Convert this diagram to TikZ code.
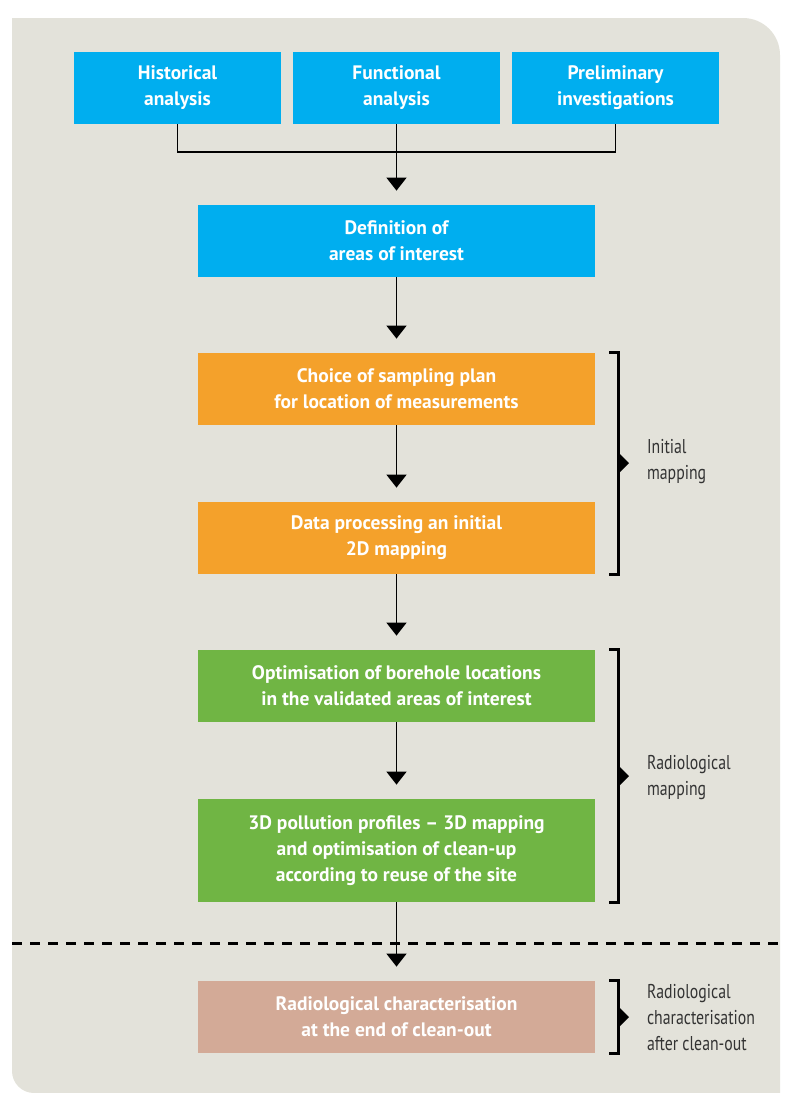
\documentclass[tikz,border=0pt]{standalone}
\usepackage{fontspec}
\setmainfont{PT Sans}
\newfontfamily\notefont[FakeStretch=0.79]{PT Sans}
\usetikzlibrary{arrows.meta}
\definecolor{panelgrey}{HTML}{E3E2DA}
\definecolor{stepblue}{HTML}{00AEEF}
\definecolor{steporange}{HTML}{F4A12B}
\definecolor{stepgreen}{HTML}{70B544}
\definecolor{stepbrown}{HTML}{D3AA97}
\definecolor{notegrey}{HTML}{333333}
\tikzset{
  stepbox/.style={minimum width=198.5pt, minimum height=36pt, inner sep=0pt,
    align=center, text=white, font=\fontsize{9.75}{13}\selectfont\bfseries},
  smallbox/.style={stepbox, minimum width=103.5pt},
  flow/.style={line width=0.75pt, -{Triangle[width=10pt,length=6.5pt]}, shorten >=7pt},
  bracket/.style={line width=1.25pt},
  note/.style={anchor=west, align=left, text=notegrey, font=\fontsize{10}{13}\notefont}
}
\begin{document}
\begin{tikzpicture}[x=0.5pt,y=-0.5pt]
  \useasboundingbox (0,0) rectangle (784,1093);
  \fill[panelgrey] (12,18) -- (743,18) to[out=0,in=90] (780,55)
    -- (780,1093) -- (34,1093) to[out=180,in=-90] (12,1071) -- cycle;
  \draw[line width=1.5pt, dash pattern=on 5pt off 4pt] (12,943) -- (784,943);

  \node[smallbox, fill=stepblue] (hist) at (177.5,88) {Historical\\analysis};
  \node[smallbox, fill=stepblue] (funct) at (396.5,88) {Functional\\analysis};
  \node[smallbox, fill=stepblue] (prelim) at (615.5,88) {Preliminary\\investigations};
  \node[stepbox, fill=stepblue] (areas) at (396.5,241) {Definition of\\areas of interest};
  \node[stepbox, fill=steporange] (plan) at (396.5,389) {Choice of sampling plan\\for location of measurements};
  \node[stepbox, fill=steporange] (proc) at (396.5,538) {Data processing an initial\\2D mapping};
  \node[stepbox, fill=stepgreen] (bore) at (396.5,686) {Optimisation of borehole locations\\in the validated areas of interest};
  \node[stepbox, fill=stepgreen, minimum height=51.5pt] (prof) at (396.5,850.5) {3D pollution profiles -- 3D mapping\\and optimisation of clean-up\\according to reuse of the site};
  \node[stepbox, fill=stepbrown] (final) at (396.5,1017) {Radiological characterisation\\at the end of clean-out};

  \coordinate (join) at (396.5,152);
  \begin{scope}[line width=0.75pt]
    \draw (hist.south) |- (join);
    \draw (prelim.south) |- (join);
  \end{scope}
  \draw[flow] (funct.south) -- (areas.north);
  \draw[flow] (areas.south) -- (plan.north);
  \draw[flow] (plan.south) -- (proc.north);
  \draw[flow] (proc.south) -- (bore.north);
  \draw[flow] (bore.south) -- (prof.north);
  \draw[flow] (prof.south) -- (final.north);

  \begin{scope}[bracket]
    \draw ([xshift=7pt]plan.north east) -- ++(4.5pt,0) |- ([xshift=7pt]proc.south east);
    \draw ([xshift=7pt]bore.north east) -- ++(4.5pt,0) |- ([xshift=7pt]prof.south east);
    \draw ([xshift=7pt]final.north east) -- ++(4.5pt,0) |- ([xshift=7pt]final.south east);
  \end{scope}
  \fill (618,452) -- (629,463) -- (618,474) -- cycle;
  \fill (618,765) -- (629,776) -- (618,787) -- cycle;
  \fill (618,1006) -- (629,1017) -- (618,1028) -- cycle;

  \node[note] (initnote) at (640,462) {Initial\\mapping};
  \node[note] (radnote) at (640,778) {Radiological\\mapping};
  \node[note] (afternote) at (640,1018) {Radiological\\characterisation\\after clean-out};
\end{tikzpicture}
\end{document}
